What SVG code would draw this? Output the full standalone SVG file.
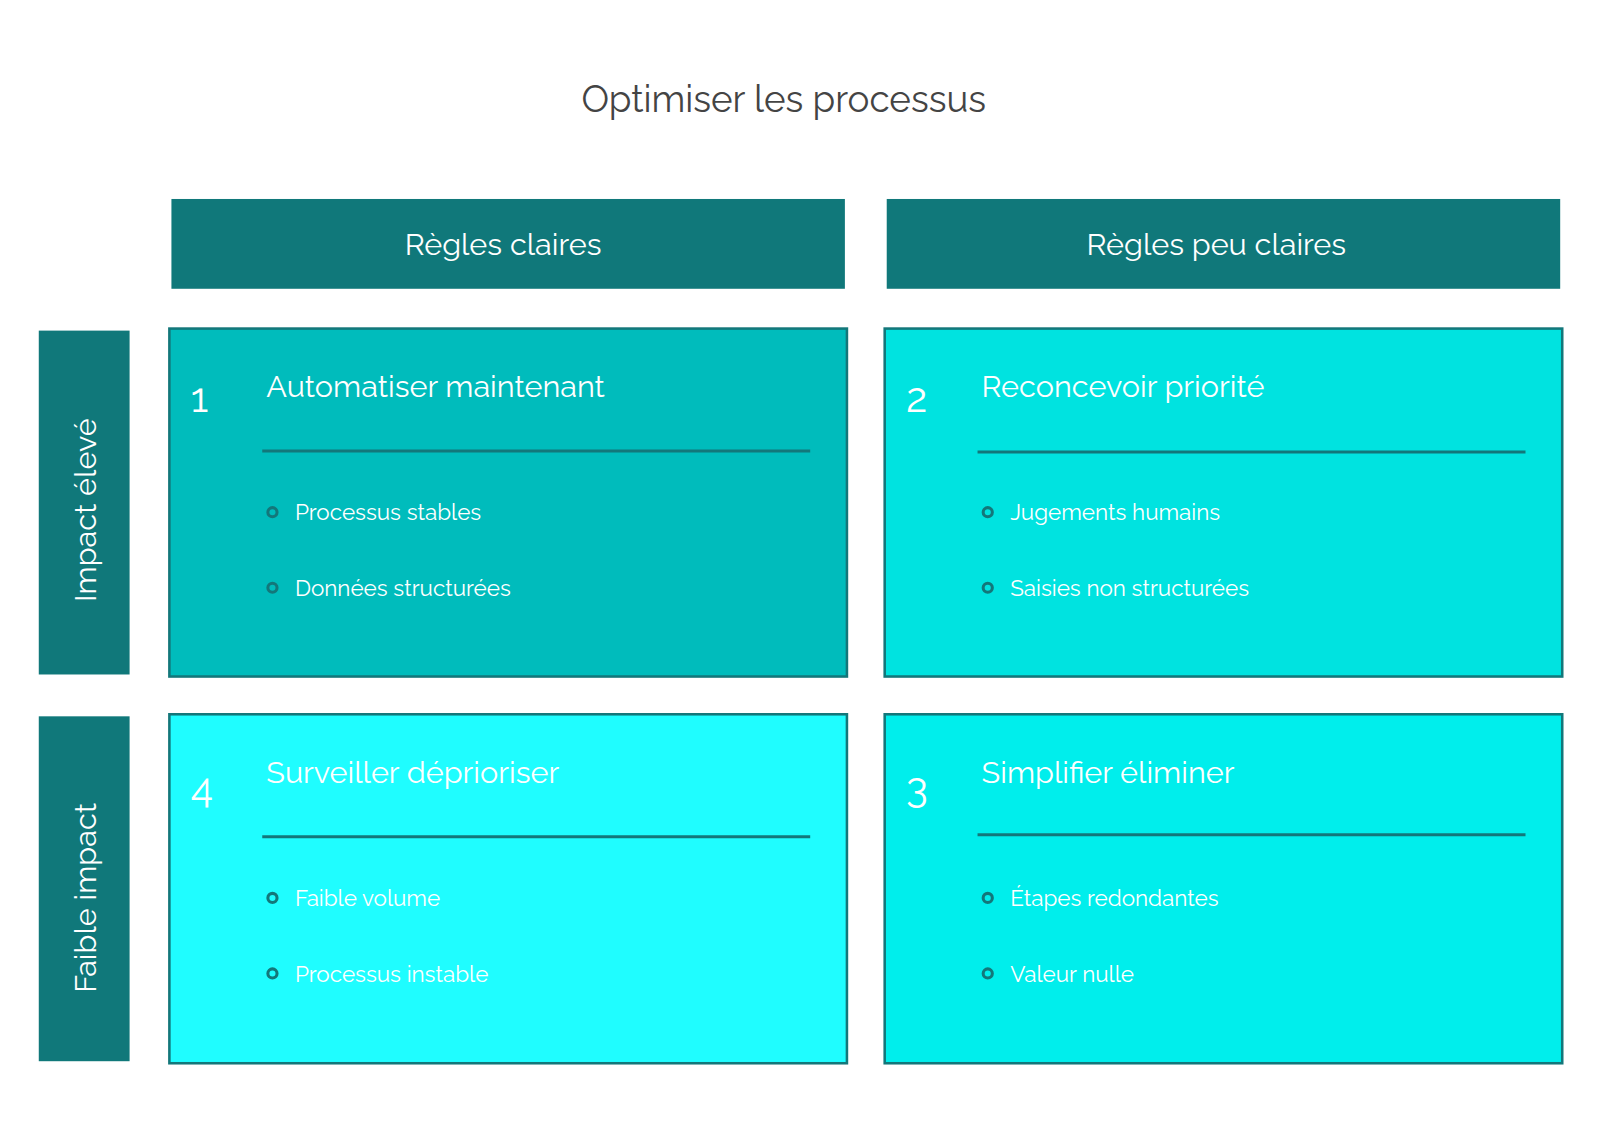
<svg xmlns="http://www.w3.org/2000/svg" width="1600" height="1140" viewBox="0 0 1600 1140">
<style>
text{font-family:Raleway,Lato,"Open Sans","Liberation Sans",sans-serif;fill:#fff}
.hdr{fill:#10787a}
.card{stroke:#13777a;stroke-width:2.5}
.num{font-size:40px}
.ttl{font-size:30px}
.it{font-size:22px}
.sep{stroke:#13777a;stroke-width:3}
.dot{fill:none;stroke:#13777a;stroke-width:3}
.h{font-size:30px;text-anchor:middle}
</style>
<rect width="1600" height="1140" fill="#fff"/>
<g transform="scale(1.0204)">
<text x="768" y="110" style="font-size:36px;fill:#444;text-anchor:middle">Optimiser les processus</text>
<g id="col1"><rect class="hdr" x="168" y="195" width="660" height="88"/><text class="h" x="493" y="250">Règles claires</text></g>
<g id="col2"><rect class="hdr" x="869" y="195" width="660" height="88"/><text class="h" x="1192" y="250">Règles peu claires</text></g>
<g id="row1"><rect class="hdr" x="38" y="324" width="89" height="337"/><text class="h" transform="translate(94,500) rotate(-90)">Impact élevé</text></g>
<g id="row2"><rect class="hdr" x="38" y="702" width="89" height="338"/><text class="h" transform="translate(94,880) rotate(-90)">Faible impact</text></g>
<g id="q1" transform="translate(166,322)">
<rect class="card" x="0" y="0" width="664" height="341" fill="#00bcbc"/>
<text class="num" x="21" y="82">1</text><text class="ttl" x="95" y="67">Automatiser maintenant</text>
<line class="sep" x1="91" y1="120" x2="628" y2="120"/>
<circle class="dot" cx="101" cy="180" r="4.5"/><text class="it" x="123" y="188">Processus stables</text>
<circle class="dot" cx="101" cy="254" r="4.5"/><text class="it" x="123" y="262">Données structurées</text>
</g>
<g id="q2" transform="translate(867,322)">
<rect class="card" x="0" y="0" width="664" height="341" fill="#00e3e0"/>
<text class="num" x="21" y="82">2</text><text class="ttl" x="95" y="67">Reconcevoir priorité</text>
<line class="sep" x1="91" y1="121" x2="628" y2="121"/>
<circle class="dot" cx="101" cy="180" r="4.5"/><text class="it" x="123" y="188">Jugements humains</text>
<circle class="dot" cx="101" cy="254" r="4.5"/><text class="it" x="123" y="262">Saisies non structurées</text>
</g>
<g id="q4" transform="translate(166,700)">
<rect class="card" x="0" y="0" width="664" height="342" fill="#1ffdff"/>
<text class="num" x="21" y="86">4</text><text class="ttl" x="95" y="67">Surveiller déprioriser</text>
<line class="sep" x1="91" y1="120" x2="628" y2="120"/>
<circle class="dot" cx="101" cy="180" r="4.5"/><text class="it" x="123" y="188">Faible volume</text>
<circle class="dot" cx="101" cy="254" r="4.5"/><text class="it" x="123" y="262">Processus instable</text>
</g>
<g id="q3" transform="translate(867,700)">
<rect class="card" x="0" y="0" width="664" height="342" fill="#00eeec"/>
<text class="num" x="21" y="86">3</text><text class="ttl" x="95" y="67">Simplifier éliminer</text>
<line class="sep" x1="91" y1="118" x2="628" y2="118"/>
<circle class="dot" cx="101" cy="180" r="4.5"/><text class="it" x="123" y="188">Étapes redondantes</text>
<circle class="dot" cx="101" cy="254" r="4.5"/><text class="it" x="123" y="262">Valeur nulle</text>
</g>
<g id="connectors"/>
</g>
</svg>
